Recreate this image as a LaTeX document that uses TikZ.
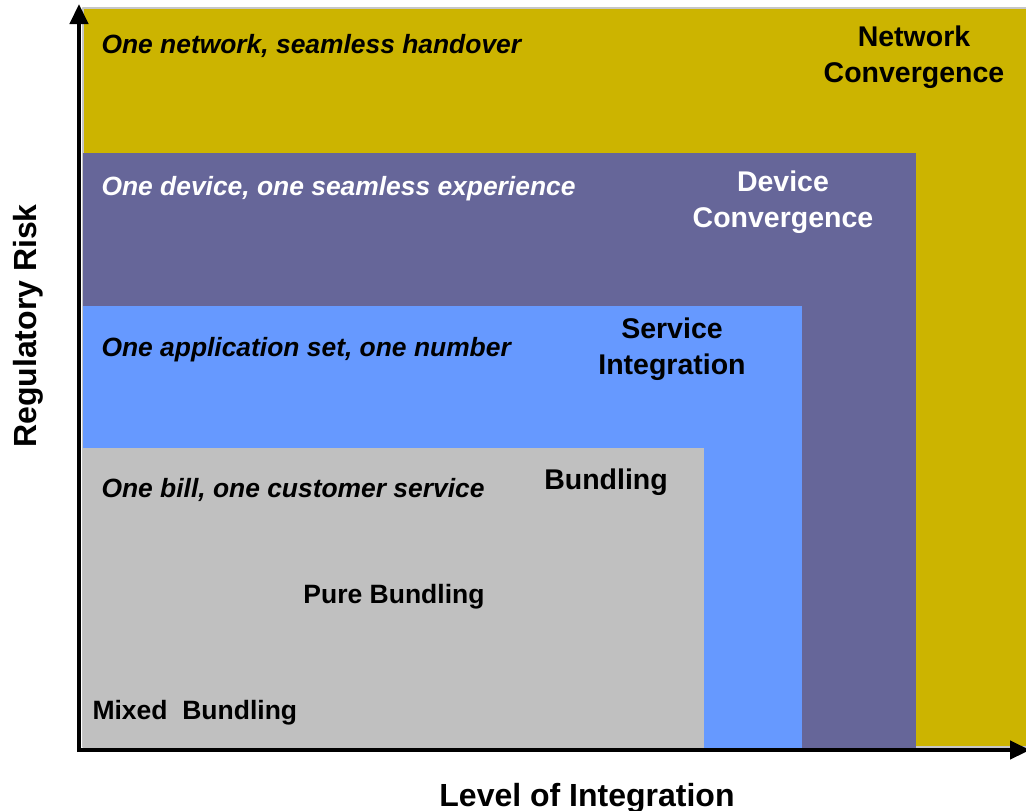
\documentclass[tikz,border=0pt]{standalone}
\usepackage{fontspec}
\setmainfont{Liberation Sans}
\usetikzlibrary{arrows.meta}
\definecolor{netgold}{RGB}{204,180,0}
\definecolor{devpurple}{RGB}{102,102,153}
\definecolor{serblue}{RGB}{102,153,255}
\definecolor{bungray}{RGB}{192,192,192}
\begin{document}
\begin{tikzpicture}[x=1pt, y=-1pt, line join=round, >={Triangle[length=20pt,width=18pt]},
	lab/.style={font=\fontsize{28.5}{36}\selectfont\bfseries, align=center},
	slogan/.style={font=\fontsize{26.4}{30}\selectfont\bfseries\itshape, anchor=base west},
	axlab/.style={font=\fontsize{32}{36}\selectfont\bfseries}]
	\useasboundingbox (0,0) rectangle (1026,811);
	\def \xl{83}
	\def \yb{748}
	% nested levels
	\fill[netgold, draw=gray!45, line width=1.5pt] (\xl,8) rectangle (1030,\yb-1);
	\fill[devpurple] (\xl,153) rectangle (916,\yb);
	\fill[serblue] (\xl,306) rectangle (802,\yb);
	\fill[bungray] (\xl,448) rectangle (704,\yb);
	% axes
	\draw[->, line width=4.5pt] (79,752)--(79,4);
	\draw[->, line width=4.5pt] (77,750)--(1030,750);
	\node[axlab, rotate=90] (yl) at (28,326) {Regulatory Risk};
	\node[axlab] (xl) at (587,798) {Level of Integration};
	% level names
	\node[lab] (net) at (914,57) {Network\\Convergence};
	\node[lab, white] (dev) at (783,202) {Device\\Convergence};
	\node[lab] (ser) at (672,349) {Service\\Integration};
	\node[lab] (bun) at (606,482) {Bundling};
	\node[lab, font=\fontsize{26.5}{30}\selectfont\bfseries] (pure) at (394,597) {Pure Bundling};
	\node[lab, font=\fontsize{26.5}{30}\selectfont\bfseries, anchor=west] (mix) at (89,713) {Mixed\ \ Bundling};
	% slogans
	\node[slogan] (s1) at (98,53) {One network, seamless handover};
	\node[slogan, white] (s2) at (98,195) {One device, one seamless experience};
	\node[slogan] (s3) at (98,356) {One application set, one number};
	\node[slogan] (s4) at (98,497) {One bill, one customer service};
\end{tikzpicture}
\end{document}
